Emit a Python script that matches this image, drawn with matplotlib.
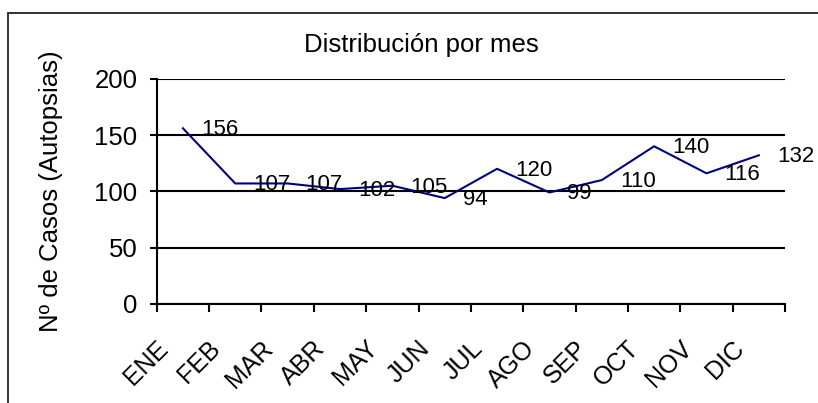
import matplotlib
matplotlib.use('Agg')
from matplotlib import pyplot as plt
from matplotlib.patches import Rectangle
from matplotlib.transforms import ScaledTranslation

meses = ['ENE', 'FEB', 'MAR', 'ABR', 'MAY', 'JUN', 'JUL', 'AGO', 'SEP', 'OCT', 'NOV', 'DIC']
casos = [156, 107, 107, 102, 105, 94, 120, 99, 110, 140, 116, 132]
y_ticks = [0, 50, 100, 150, 200]

plt.rcParams['font.family'] = ['Liberation Sans', 'DejaVu Sans']


def main():
    fig = plt.figure(figsize=(8.18, 4.03), dpi=100)
    ax = fig.add_axes([0.1916, 0.2457, 0.7681, 0.559])

    x = [i + 0.5 for i in range(len(meses))]
    ax.plot(x, casos, color='#000080', lw=1.5)

    for xi, v in zip(x, casos):
        ax.annotate(str(v), (xi, v), xytext=(18, -7), textcoords='offset pixels',
                    ha='left', va='baseline', fontsize=16)

    ax.set_xlim(0, len(meses))
    ax.set_ylim(0, 200)
    ax.set_yticks(y_ticks)
    ax.set_yticklabels([str(t) for t in y_ticks], fontsize=18.5)
    ax.yaxis.grid(True, color='black', lw=1.5)
    ax.set_axisbelow(True)

    ax.set_xticks(range(len(meses) + 1))
    ax.set_xticklabels([])
    ax.set_xticks(x, minor=True)
    ax.set_xticklabels(meses, minor=True, rotation=45, ha='right', va='top', fontsize=18)
    ax.tick_params(axis='x', which='major', direction='out', length=6, width=1.5)
    ax.tick_params(axis='x', which='minor', length=0, pad=23)
    ax.tick_params(axis='y', direction='out', length=5, width=1.5, pad=9)
    shift = ScaledTranslation(-0.1, 0, fig.dpi_scale_trans)
    for lbl in ax.get_xticklabels(minor=True):
        lbl.set_transform(lbl.get_transform() + shift)

    for s in ['top', 'right']:
        ax.spines[s].set_visible(False)
    for s in ['left', 'bottom']:
        ax.spines[s].set_linewidth(1.5)

    fig.text(0.5155, 0.8717, 'Distribución por mes', ha='center', va='baseline', fontsize=18.5)
    fig.text(0.0623, 0.526, 'Nº de Casos (Autopsias)', rotation=90, ha='center', va='center', fontsize=18.5)

    frame = Rectangle((8.3 / 818, -0.2), 1.5, 1.2 - 13.3 / 403, transform=fig.transFigure,
                      fill=False, edgecolor='#222222', lw=1.3)
    fig.patches.append(frame)

    fig.savefig('out.png', dpi=100)


if __name__ == '__main__':
    main()
